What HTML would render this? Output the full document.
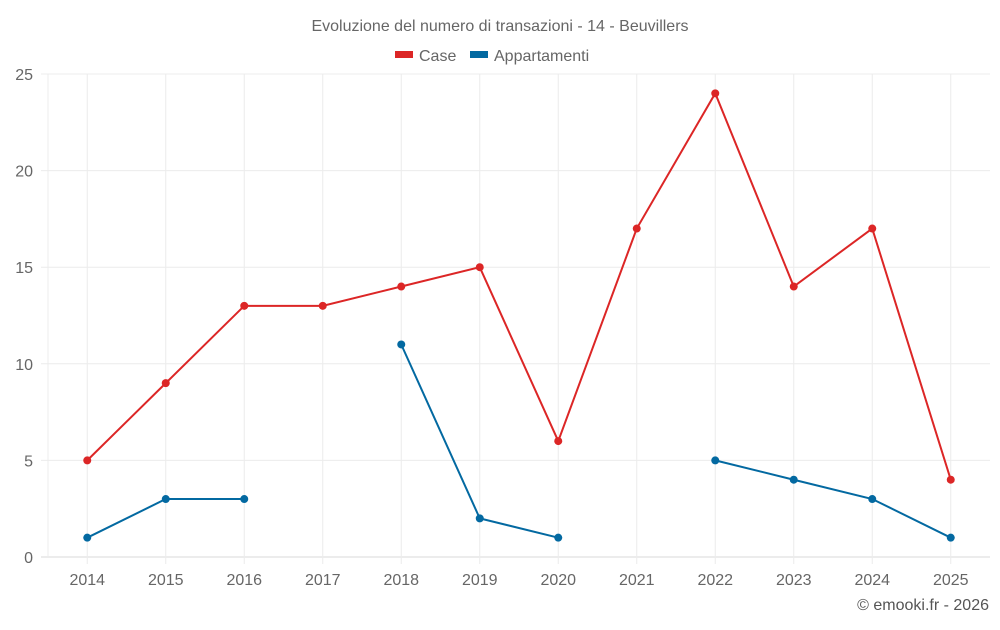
<!DOCTYPE html>
<html><head><meta charset="utf-8"><style>
body{margin:0;background:#fff;font-family:"Liberation Sans",sans-serif}
svg text{font-family:"Liberation Sans",sans-serif}
</style></head><body>
<svg id="chart" width="1000" height="625" xmlns="http://www.w3.org/2000/svg">
<text x="500" y="31" text-anchor="middle" font-size="16" fill="#666">Evoluzione del numero di transazioni - 14 - Beuvillers</text>
<g>
<g><rect x="395" y="51" width="18" height="7" fill="#dc2626"/><text x="419" y="61" font-size="16" fill="#666">Case</text></g>
<g><rect x="470" y="51" width="18" height="7" fill="#0369a1"/><text x="494" y="61" font-size="16" fill="#666">Appartamenti</text></g>
</g>
<g id="grid"></g>
<g id="axes"></g>
<g id="series"></g>
<text x="989" y="610" text-anchor="end" font-size="16" fill="#555">© emooki.fr - 2026</text>
</svg>
<script>
const categories=['2014','2015','2016','2017','2018','2019','2020','2021','2022','2023','2024','2025'];
const caseValues=[5,9,13,13,14,15,6,17,24,14,17,4];
const appValues=[1,3,3,null,11,2,1,null,5,4,3,1];
const yTicks=[0,5,10,15,20,25];
const NS='http://www.w3.org/2000/svg';
const L=48,R=990,T=74,B=557,YMAX=25;
const bw=(R-L)/categories.length;
const x=i=>L+bw*(i+0.5);
const y=v=>B-(v/YMAX)*(B-T);
function mk(tag,attrs,parent){const e=document.createElementNS(NS,tag);for(const k in attrs)e.setAttribute(k,attrs[k]);parent.appendChild(e);return e;}
const grid=document.getElementById('grid'),axes=document.getElementById('axes'),series=document.getElementById('series');
yTicks.forEach(t=>{
 const l=mk('line',{x1:41,x2:R,y1:y(t),y2:y(t),stroke:t===0?'#d8d8d8':'#ececec','stroke-width':1},grid);
 
 
 const tx=mk('text',{x:33,y:y(t)+6,'text-anchor':'end','font-size':16,fill:'#666'},axes);
 tx.textContent=t;
 
 
});
const lv=mk('line',{x1:L,x2:L,y1:T,y2:B,stroke:'#ececec'},grid);


categories.forEach((c,i)=>{
 const l=mk('line',{x1:x(i),x2:x(i),y1:T,y2:B+7,stroke:'#ececec'},grid);
 
 
 const tx=mk('text',{x:x(i),y:585,'text-anchor':'middle','font-size':16,fill:'#666'},axes);
 tx.textContent=c;
 
 
});
function draw(vals,color,name){
 let segs=[],cur=[];
 vals.forEach((v,i)=>{if(v==null){if(cur.length)segs.push(cur);cur=[];}else cur.push([x(i),y(v)]);});
 if(cur.length)segs.push(cur);
 segs.forEach(s=>{if(s.length>1){const p=mk('polyline',{points:s.map(q=>q.join(',')).join(' '),fill:'none',stroke:color,'stroke-width':2},series);
 
 }});
 vals.forEach((v,i)=>{if(v==null)return;const c=mk('circle',{cx:x(i),cy:y(v),r:4,fill:color},series);
 
 });
}
draw(caseValues,'#dc2626','case');
draw(appValues,'#0369a1','appartamenti');
</script>
</body></html>
